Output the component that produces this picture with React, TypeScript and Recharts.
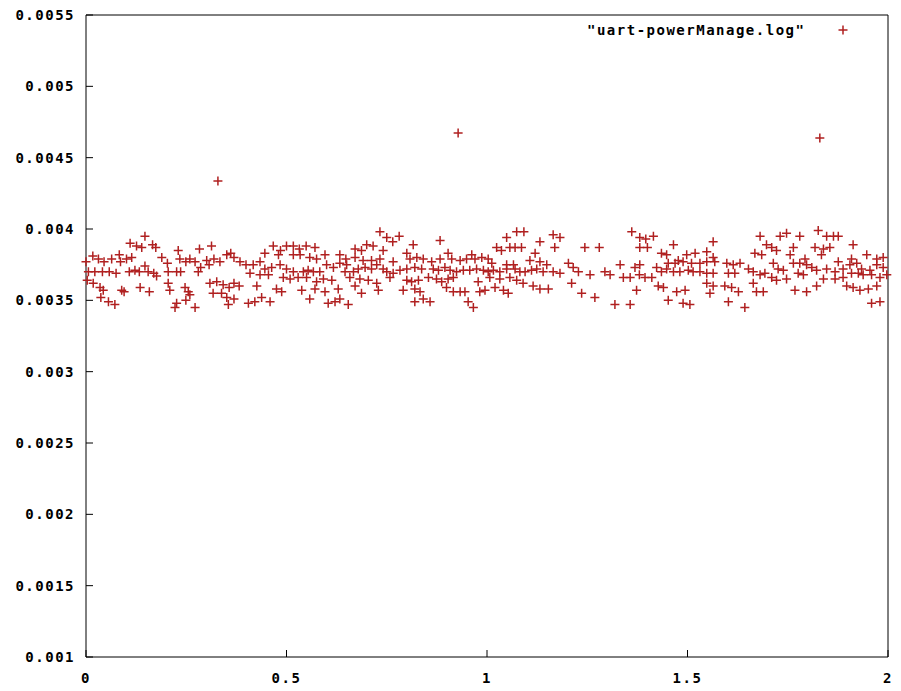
import React from 'react';
import { ScatterChart, Scatter, XAxis, YAxis, Legend } from 'recharts';

const SERIES_NAME = '"uart-powerManage.log"';
const xTicks = [0, 0.5, 1, 1.5, 2];
const xTickLabels = ['0', '0.5', '1', '1.5', '2'];
const yTicks = [0.001, 0.0015, 0.002, 0.0025, 0.003, 0.0035, 0.004, 0.0045, 0.005, 0.0055];
const yTickLabels = ['0.001', '0.0015', '0.002', '0.0025', '0.003', '0.0035', '0.004', '0.0045', '0.005', '0.0055'];

// x in [0, 0.4]
const pointsA: [number, number][] = [
  [0.000,0.00377],[0.017,0.00381],[0.006,0.00370],[0.022,0.00370],[0.041,0.00370],[0.058,0.00370],[0.075,0.00369],
  [0.003,0.00364],[0.018,0.00362],[0.035,0.00359],[0.043,0.00357],[0.037,0.00352],[0.056,0.00349],[0.072,0.00347],
  [0.031,0.00379],[0.045,0.00377],[0.064,0.00379],[0.083,0.00382],[0.086,0.00377],[0.101,0.00379],[0.114,0.00380],
  [0.110,0.00390],[0.126,0.00388],[0.139,0.00387],[0.147,0.00395],[0.166,0.00389],[0.174,0.00387],[0.108,0.00370],
  [0.122,0.00371],[0.133,0.00370],[0.147,0.00374],[0.155,0.00370],[0.169,0.00369],[0.176,0.00367],[0.089,0.00357],
  [0.095,0.00356],[0.135,0.00359],[0.158,0.00356],[0.189,0.00380],[0.203,0.00376],[0.230,0.00385],[0.234,0.00379],
  [0.259,0.00379],[0.272,0.00377],[0.283,0.00386],[0.313,0.00388],[0.205,0.00370],[0.226,0.00370],[0.236,0.00370],
  [0.249,0.00377],[0.280,0.00370],[0.286,0.00373],[0.301,0.00378],[0.307,0.00375],[0.319,0.00379],[0.334,0.00377],
  [0.351,0.00382],[0.361,0.00383],[0.369,0.00380],[0.384,0.00377],[0.205,0.00362],[0.209,0.00357],[0.247,0.00359],
  [0.255,0.00356],[0.259,0.00354],[0.249,0.00350],[0.226,0.00348],[0.222,0.00345],[0.272,0.00345],[0.309,0.00362],
  [0.326,0.00363],[0.342,0.00361],[0.357,0.00359],[0.369,0.00362],[0.382,0.00360],[0.317,0.00355],[0.338,0.00355],
  [0.351,0.00352],[0.369,0.00351],[0.355,0.00347],
];

// x in [0.4, 0.8]
const pointsB: [number, number][] = [
  [0.733,0.00398],[0.750,0.00394],[0.765,0.00391],[0.781,0.00395],[0.467,0.00388],[0.485,0.00385],[0.500,0.00388],
  [0.517,0.00388],[0.532,0.00386],[0.549,0.00388],[0.571,0.00387],[0.671,0.00386],[0.687,0.00385],[0.700,0.00389],
  [0.716,0.00388],[0.741,0.00385],[0.446,0.00383],[0.480,0.00382],[0.517,0.00382],[0.534,0.00382],[0.558,0.00380],
  [0.575,0.00379],[0.596,0.00382],[0.633,0.00382],[0.648,0.00379],[0.671,0.00380],[0.691,0.00378],[0.712,0.00378],
  [0.733,0.00379],[0.766,0.00377],[0.399,0.00375],[0.417,0.00375],[0.434,0.00377],[0.446,0.00372],[0.463,0.00373],
  [0.484,0.00375],[0.500,0.00372],[0.517,0.00370],[0.542,0.00370],[0.554,0.00371],[0.567,0.00370],[0.583,0.00370],
  [0.600,0.00375],[0.617,0.00373],[0.633,0.00376],[0.650,0.00375],[0.646,0.00370],[0.667,0.00370],[0.679,0.00372],
  [0.696,0.00373],[0.712,0.00372],[0.725,0.00375],[0.741,0.00372],[0.750,0.00370],[0.766,0.00369],[0.783,0.00371],
  [0.409,0.00369],[0.434,0.00368],[0.455,0.00368],[0.492,0.00366],[0.509,0.00365],[0.529,0.00366],[0.550,0.00366],
  [0.575,0.00363],[0.592,0.00365],[0.613,0.00364],[0.658,0.00366],[0.683,0.00365],[0.704,0.00364],[0.725,0.00362],
  [0.758,0.00366],[0.426,0.00360],[0.475,0.00358],[0.488,0.00356],[0.538,0.00357],[0.571,0.00358],[0.596,0.00356],
  [0.629,0.00358],[0.671,0.00360],[0.687,0.00355],[0.729,0.00357],[0.791,0.00357],[0.405,0.00348],[0.421,0.00349],
  [0.438,0.00352],[0.459,0.00349],[0.558,0.00351],[0.604,0.00348],[0.621,0.00349],[0.633,0.00351],[0.654,0.00347],
];

// x in [0.8, 1.2]
const pointsC: [number, number][] = [
  [1.074,0.00398],[1.092,0.00398],[1.049,0.00394],[1.165,0.00396],[1.182,0.00394],[1.132,0.00391],[1.169,0.00387],
  [0.816,0.00389],[0.883,0.00392],[1.024,0.00387],[1.036,0.00385],[1.057,0.00387],[1.070,0.00387],[1.086,0.00387],
  [1.120,0.00383],[0.800,0.00383],[0.808,0.00379],[0.825,0.00380],[0.841,0.00379],[0.862,0.00377],[0.883,0.00379],
  [0.903,0.00383],[0.912,0.00379],[0.933,0.00378],[0.949,0.00379],[0.962,0.00382],[0.970,0.00379],[0.987,0.00380],
  [1.003,0.00379],[1.012,0.00376],[1.049,0.00375],[1.066,0.00375],[1.107,0.00378],[1.132,0.00377],[1.149,0.00375],
  [0.800,0.00372],[0.820,0.00373],[0.837,0.00372],[0.866,0.00372],[0.879,0.00371],[0.895,0.00373],[0.908,0.00371],
  [0.924,0.00370],[0.941,0.00371],[0.957,0.00371],[0.974,0.00372],[0.991,0.00371],[1.003,0.00370],[1.016,0.00371],
  [1.032,0.00370],[1.049,0.00372],[1.070,0.00372],[1.082,0.00370],[1.095,0.00370],[1.111,0.00371],[1.124,0.00372],
  [1.140,0.00370],[1.165,0.00370],[1.182,0.00369],[0.800,0.00364],[0.812,0.00363],[0.829,0.00364],[0.854,0.00366],
  [0.874,0.00365],[0.887,0.00363],[0.903,0.00365],[0.916,0.00366],[0.978,0.00363],[1.007,0.00366],[1.032,0.00365],
  [1.057,0.00366],[1.074,0.00364],[1.090,0.00362],[1.115,0.00360],[1.132,0.00358],[1.153,0.00358],[0.820,0.00358],
  [0.833,0.00356],[0.899,0.00359],[0.916,0.00356],[0.933,0.00356],[0.945,0.00356],[0.982,0.00356],[0.995,0.00357],
  [1.020,0.00359],[1.041,0.00357],[1.053,0.00355],[0.820,0.00349],[0.841,0.00351],[0.858,0.00349],[0.953,0.00349],
  [0.966,0.00345],
];

// x in [1.2, 1.6]
const pointsD: [number, number][] = [
  [1.361,0.00398],[1.381,0.00394],[1.396,0.00393],[1.415,0.00395],[1.381,0.00387],[1.400,0.00387],[1.465,0.00389],
  [1.564,0.00391],[1.244,0.00387],[1.280,0.00387],[1.435,0.00383],[1.448,0.00382],[1.477,0.00378],[1.498,0.00382],
  [1.519,0.00383],[1.548,0.00384],[1.564,0.00380],[1.452,0.00376],[1.469,0.00376],[1.489,0.00377],[1.510,0.00376],
  [1.531,0.00376],[1.548,0.00377],[1.568,0.00377],[1.332,0.00375],[1.203,0.00376],[1.215,0.00373],[1.228,0.00370],
  [1.257,0.00368],[1.294,0.00370],[1.307,0.00368],[1.340,0.00366],[1.357,0.00366],[1.369,0.00373],[1.381,0.00375],
  [1.380,0.00368],[1.394,0.00366],[1.411,0.00366],[1.423,0.00373],[1.435,0.00370],[1.448,0.00372],[1.465,0.00370],
  [1.481,0.00370],[1.502,0.00371],[1.514,0.00370],[1.531,0.00370],[1.548,0.00369],[1.564,0.00369],[1.211,0.00362],
  [1.236,0.00355],[1.269,0.00352],[1.373,0.00357],[1.427,0.00360],[1.440,0.00359],[1.473,0.00356],[1.494,0.00357],
  [1.548,0.00362],[1.564,0.00360],[1.556,0.00355],[1.319,0.00347],[1.357,0.00347],[1.452,0.00350],[1.489,0.00348],
  [1.506,0.00347],
];

// x in [1.6, 2]
const pointsE: [number, number][] = [
  [1.826,0.00399],[1.847,0.00395],[1.864,0.00395],[1.876,0.00395],[1.681,0.00395],[1.731,0.00395],[1.747,0.00397],
  [1.780,0.00395],[1.913,0.00389],[1.668,0.00383],[1.685,0.00382],[1.697,0.00389],[1.710,0.00387],[1.722,0.00385],
  [1.764,0.00387],[1.818,0.00387],[1.839,0.00386],[1.855,0.00387],[1.756,0.00382],[1.793,0.00379],[1.834,0.00382],
  [1.876,0.00377],[1.909,0.00379],[1.947,0.00382],[1.972,0.00379],[1.988,0.00380],[1.598,0.00376],[1.614,0.00375],
  [1.631,0.00376],[1.652,0.00372],[1.714,0.00376],[1.726,0.00372],[1.739,0.00371],[1.764,0.00376],[1.780,0.00376],
  [1.797,0.00375],[1.810,0.00373],[1.822,0.00371],[1.847,0.00372],[1.868,0.00370],[1.888,0.00372],[1.905,0.00375],
  [1.922,0.00376],[1.934,0.00372],[1.955,0.00371],[1.972,0.00375],[1.988,0.00373],[1.602,0.00369],[1.618,0.00369],
  [1.664,0.00370],[1.681,0.00368],[1.693,0.00369],[1.710,0.00366],[1.722,0.00364],[1.747,0.00365],[1.776,0.00369],
  [1.789,0.00368],[1.839,0.00365],[1.868,0.00365],[1.888,0.00366],[1.909,0.00369],[1.926,0.00369],[1.938,0.00368],
  [1.959,0.00368],[1.980,0.00366],[1.997,0.00368],[1.593,0.00360],[1.610,0.00359],[1.627,0.00356],[1.664,0.00362],
  [1.672,0.00356],[1.689,0.00356],[1.768,0.00357],[1.797,0.00356],[1.822,0.00360],[1.897,0.00360],[1.913,0.00359],
  [1.930,0.00357],[1.951,0.00358],[1.972,0.00360],[1.602,0.00349],[1.643,0.00345],[1.959,0.00348],[1.980,0.00349],
];

const outliers: [number, number][] = [
  [0.329,0.004336],[0.928,0.004673],[1.830,0.004638],
];

const data = [...pointsA, ...pointsB, ...pointsC, ...pointsD, ...pointsE, ...outliers].map(([x, y]) => ({ x, y }));

const RED = '#b02020';
const FONT = '"DejaVu Sans Mono", "Liberation Mono", monospace';
const tickStyle = { fontFamily: FONT, fontWeight: 'bold' as const, fontSize: 14, fill: '#000', letterSpacing: 1.5 };

const Plus = (props: any) => {
  const { cx, cy } = props;
  if (cx == null || cy == null) return null;
  return (
    <path
      d={`M${cx - 4.5},${cy}H${cx + 4.5}M${cx},${cy - 4.5}V${cy + 4.5}`}
      stroke={RED}
      strokeWidth={1.5}
      fill="none"
    />
  );
};

const LegendContent = () => (
  <div style={{ display: 'flex', alignItems: 'center', fontFamily: FONT, fontWeight: 'bold', fontSize: 14, letterSpacing: 1.5, color: '#000', lineHeight: '16px', whiteSpace: 'nowrap' }}>
    <span>{SERIES_NAME}</span>
    <svg width={10} height={10} style={{ marginLeft: 33 }}>
      <path d="M0.5,5H9.5M5,0.5V9.5" stroke={RED} strokeWidth={1.5} fill="none" />
    </svg>
  </div>
);

export default function App() {
  return (
    <div style={{ width: 885, height: 683, position: 'relative', background: '#fff' }}>
      <ScatterChart width={885} height={683} margin={{ top: 0, right: 0, bottom: 4, left: 0 }}>
        <XAxis
          type="number"
          dataKey="x"
          domain={[0, 2]}
          ticks={xTicks}
          interval={0}
          tickFormatter={(_v: number, i: number) => xTickLabels[i]}
          height={30}
          tickSize={-7}
          tickMargin={23}
          axisLine={{ stroke: '#000', strokeWidth: 1 }}
          tickLine={{ stroke: '#000' }}
          tick={tickStyle}
        />
        <XAxis
          xAxisId="top"
          orientation="top"
          type="number"
          domain={[0, 2]}
          ticks={xTicks}
          interval={0}
          height={7}
          tickSize={-7}
          axisLine={{ stroke: '#000', strokeWidth: 1 }}
          tickLine={{ stroke: '#000' }}
          tick={false}
        />
        <YAxis
          type="number"
          dataKey="y"
          domain={[0.001, 0.0055]}
          ticks={yTicks}
          interval={0}
          tickFormatter={(_v: number, i: number) => yTickLabels[i]}
          width={78}
          tickSize={-7}
          tickMargin={18}
          axisLine={{ stroke: '#000', strokeWidth: 1 }}
          tickLine={{ stroke: '#000' }}
          tick={tickStyle}
        />
        <YAxis
          yAxisId="right"
          orientation="right"
          type="number"
          domain={[0.001, 0.0055]}
          ticks={yTicks}
          interval={0}
          width={5}
          tickSize={-7}
          axisLine={{ stroke: '#000', strokeWidth: 1 }}
          tickLine={{ stroke: '#000' }}
          tick={false}
        />
        <Legend
          layout="vertical"
          verticalAlign="middle"
          align="center"
          content={() => <LegendContent />}
          wrapperStyle={{ position: 'absolute', top: 14, left: 579, width: 'auto', height: 'auto' }}
        />
        <Scatter name={SERIES_NAME} data={data} shape={Plus} isAnimationActive={false} />
      </ScatterChart>
    </div>
  );
}
